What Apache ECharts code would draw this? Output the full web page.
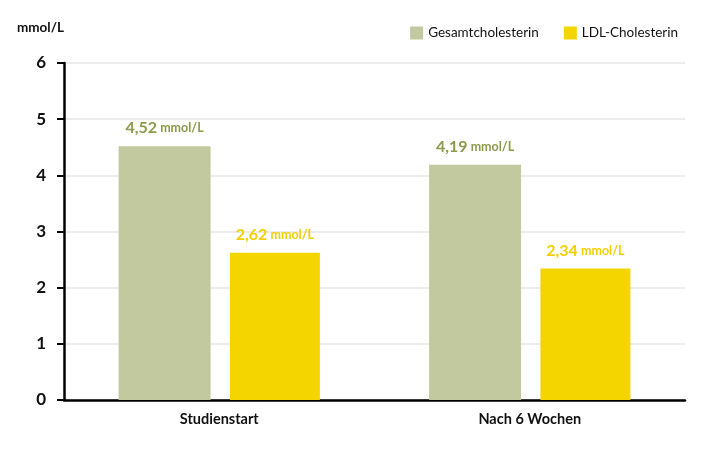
<!DOCTYPE html>
<html><head><meta charset="utf-8">
<script src="https://cdn.jsdelivr.net/npm/echarts@6/dist/echarts.min.js"></script>
<style>html,body{margin:0;padding:0;background:#fff}#c{width:702px;height:450px}</style>
</head><body><div id="c"></div>
<script>
const categories = ['Studienstart', 'Nach 6 Wochen'];
const gesamt = [4.52, 4.19];
const ldl = [2.62, 2.34];
const yTicks = [0, 1, 2, 3, 4, 5, 6];
const unit = 'mmol/L';

const FONT = 'Lato, "Noto Sans", sans-serif';
function fmt(p){ return '{v|' + p.value.toFixed(2).replace('.', ',') + '} {u|' + unit + '}'; }
function lbl(color){
  return {show:true, position:'top', distance:10, formatter:fmt,
    rich:{v:{fontFamily:FONT, fontSize:16, fontWeight:'bold', color:color},
          u:{fontFamily:FONT, fontSize:12.5, fontWeight:'bold', color:color}}};
}
const chart = echarts.init(document.getElementById('c'), null, {renderer:'canvas'});
chart.setOption({
  animation:false,
  textStyle:{fontFamily:FONT},
  legend:{right:19, top:21, icon:'rect', itemWidth:13, itemHeight:13, itemGap:25,
    textStyle:{fontFamily:FONT, fontSize:13.5, color:'#111'}},
  grid:{left:64, right:17, top:63, bottom:50, containLabel:false},
  xAxis:{type:'category', data:categories,
    axisLine:{show:true, lineStyle:{color:'#000', width:2.5}},
    axisTick:{show:false},
    axisLabel:{fontFamily:FONT, fontSize:14.5, fontWeight:'bold', color:'#111', margin:12}},
  yAxis:{type:'value', min:yTicks[0], max:yTicks[yTicks.length-1], interval:1,
    name:unit, nameLocation:'end', nameGap:28,
    nameTextStyle:{fontFamily:FONT, fontSize:13.5, fontWeight:'bold', color:'#111', align:'right', padding:[0,0,0,0]},
    axisLine:{show:true, lineStyle:{color:'#000', width:2.5}},
    axisTick:{show:true, length:7, lineStyle:{color:'#000', width:2}},
    axisLabel:{fontFamily:FONT, fontSize:17, fontWeight:'bold', color:'#111', margin:18},
    splitLine:{show:true, lineStyle:{color:'#e6e6e6', width:1.5}}},
  series:[
    {name:'Gesamtcholesterin', type:'bar', data:gesamt, barWidth:92, barGap:'21%',
     itemStyle:{color:'#c3c99f'}, label:lbl('#8c9a4d')},
    {name:'LDL-Cholesterin', type:'bar', data:ldl, barWidth:90,
     itemStyle:{color:'#f5d500'}, label:lbl('#f3cf00')}
  ]
});
</script></body></html>
